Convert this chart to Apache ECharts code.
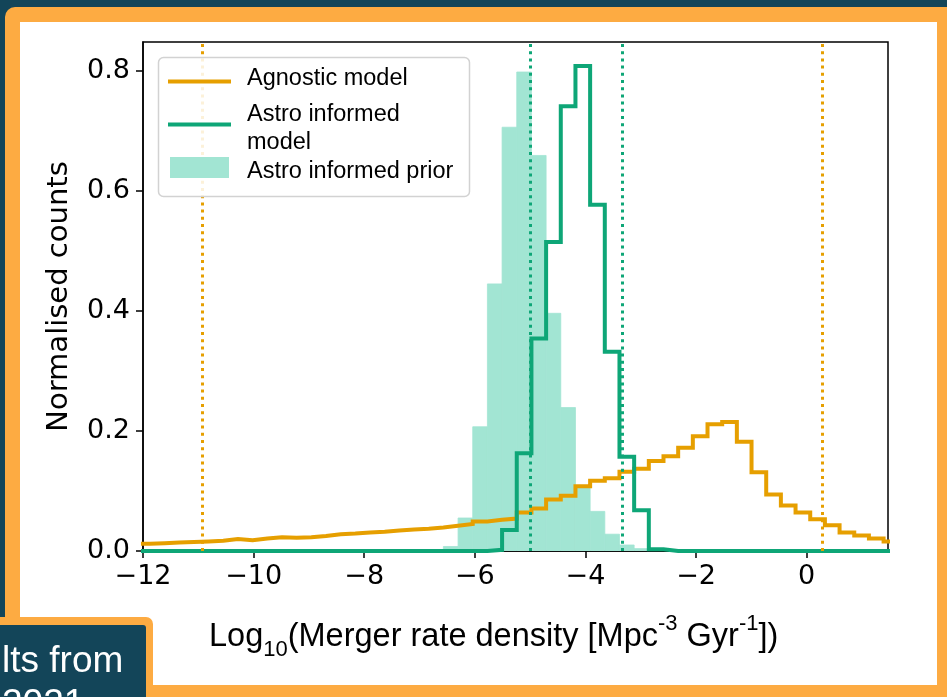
<!DOCTYPE html>
<html><head><meta charset="utf-8">
<script src="https://cdn.jsdelivr.net/npm/echarts@6/dist/echarts.min.js"></script>
<style>html,body{margin:0;padding:0;background:#134559;}#c{width:947px;height:697px;}</style>
</head><body><div id="c"></div>
<script>
// ---- data ----
const binStart = -12.14;   // left edge of first histogram bin (log10 units)
const binWidth = 0.2653;   // histogram bin width
const agnosticCounts = [0.012,0.013,0.014,0.015,0.016,0.017,0.020,0.018,0.021,0.023,
  0.022,0.023,0.025,0.028,0.029,0.031,0.032,0.034,0.036,0.037,
  0.039,0.042,0.045,0.049,0.052,0.054,0.064,0.071,0.086,0.092,
  0.108,0.117,0.121,0.132,0.137,0.150,0.158,0.172,0.191,0.211,
  0.215,0.182,0.131,0.094,0.076,0.064,0.053,0.043,0.031,0.026,
  0.021,0.016];
const astroModelCounts = [0,0,0,0,0,0,0,0,0,0,
  0,0,0,0,0,0,0,0,0,0,
  0,0,0,0,0.002,0.035,0.163,0.354,0.515,0.741,
  0.808,0.577,0.332,0.157,0.068,0.003,0,0,0,0,
  0,0,0,0,0,0,0,0,0,0,
  0,0];
const astroPriorCounts = [0,0,0,0,0,0,0,0,0,0,
  0,0,0,0,0,0,0,0,0,0,
  0,0.0075,0.055,0.207,0.445,0.706,0.798,0.659,0.396,0.239,
  0.108,0.066,0.028,0.010,0.004,0,0,0,0,0,
  0,0,0,0,0,0,0,0,0,0,
  0,0];
const agnosticBounds = [-10.93, 0.29];
const astroBounds = [-5.0, -3.34];
const xTicks = [-12,-10,-8,-6,-4,-2,0];
const yTicks = [0,0.2,0.4,0.6,0.8];
const xRange = [-12, 1.47];
const yRange = [0, 0.848];

// ---- styles ----
const ORANGE = '#E69F00';
const GREEN = '#0ea677';
const PRIOR = '#a2e5d3';
const TICKFONT = 'DejaVu Sans';
const SLIDEFONT = 'Liberation Sans, Arial, sans-serif';

const nBins = agnosticCounts.length;
const leftEdges = agnosticCounts.map((_, i) => binStart + i * binWidth);
const rightEnd = binStart + nBins * binWidth;

function stepPoints(vals) {
  const pts = [[leftEdges[0], 0]];
  vals.forEach((v, i) => pts.push([leftEdges[i], v]));
  pts.push([rightEnd, vals[vals.length - 1]]);
  pts.push([rightEnd, 0]);
  return pts;
}
const priorRects = astroPriorCounts
  .map((v, i) => [leftEdges[i], leftEdges[i] + binWidth, v])
  .filter(d => d[2] > 0);

const chart = echarts.init(document.getElementById('c'), null, {renderer: 'canvas'});
const dotted = (c) => ({color: c, width: 3, type: [3, 4.2]});

chart.setOption({
  backgroundColor: '#134559',
  animation: false,
  grid: {left: 143, right: 59, top: 42, bottom: 146, show: true,
    borderColor: '#000', borderWidth: 1.5, backgroundColor: 'transparent', z: 1},
  xAxis: {
    type: 'value', min: xRange[0], max: xRange[1], interval: 2,
    axisLine: {show: true, onZero: false, lineStyle: {color: '#000', width: 1.5}},
    axisTick: {show: true, length: 7, customValues: xTicks, lineStyle: {color: '#000', width: 1.5}},
    axisLabel: {customValues: xTicks, margin: 12, color: '#000', fontSize: 27, fontFamily: TICKFONT,
      formatter: v => (v < 0 ? '\u2212' : '') + Math.abs(v)},
    splitLine: {show: false}
  },
  yAxis: {
    type: 'value', min: yRange[0], max: yRange[1], interval: 0.2,
    name: 'Normalised counts', nameLocation: 'middle', nameGap: 69,
    nameTextStyle: {color: '#000', fontSize: 29, fontFamily: TICKFONT},
    axisLine: {show: true, onZero: false, lineStyle: {color: '#000', width: 1.5}},
    axisTick: {show: true, length: 7, customValues: yTicks, lineStyle: {color: '#000', width: 1.5}},
    axisLabel: {customValues: yTicks, margin: 13, color: '#000', fontSize: 27, fontFamily: TICKFONT,
      formatter: v => v.toFixed(1)},
    splitLine: {show: false}
  },
  series: [
    {
      name: 'Astro informed prior', type: 'custom', z: 2, clip: true,
      encode: {x: [0, 1], y: 2},
      data: priorRects,
      renderItem: (params, api) => {
        const p0 = api.coord([api.value(0), api.value(2)]);
        const p1 = api.coord([api.value(1), 0]);
        return {type: 'rect', shape: {x: p0[0], y: p0[1], width: p1[0] - p0[0], height: p1[1] - p0[1]},
          style: {fill: PRIOR, stroke: PRIOR, lineWidth: 0.8}};
      }
    },
    {
      name: 'Agnostic model', type: 'line', step: 'end', z: 3, clip: true,
      showSymbol: false, symbol: 'none',
      lineStyle: {color: ORANGE, width: 4, join: 'miter'},
      data: stepPoints(agnosticCounts),
      markLine: {silent: true, symbol: 'none', label: {show: false},
        lineStyle: dotted(ORANGE), data: agnosticBounds.map(v => ({xAxis: v}))}
    },
    {
      name: 'Astro informed model', type: 'line', step: 'end', z: 4, clip: true,
      showSymbol: false, symbol: 'none',
      lineStyle: {color: GREEN, width: 4, join: 'miter'},
      data: stepPoints(astroModelCounts),
      markLine: {silent: true, symbol: 'none', label: {show: false},
        lineStyle: dotted(GREEN), data: astroBounds.map(v => ({xAxis: v}))}
    }
  ],
  graphic: {elements: [
    // slide frame
    {type: 'rect', z: -100, shape: {x: 5, y: 7, width: 980, height: 740, r: 10}, style: {fill: '#fdab42'}},
    {type: 'rect', z: -99, shape: {x: 20, y: 22, width: 917, height: 663}, style: {fill: '#ffffff'}},
    // bottom-left caption box
    {type: 'rect', z: 200, shape: {x: -20, y: 617, width: 173, height: 120, r: [0, 7, 0, 0]}, style: {fill: '#fdab42'}},
    {type: 'rect', z: 201, shape: {x: -20, y: 625, width: 166, height: 120, r: [0, 3, 0, 0]}, style: {fill: '#134559'}},
    {type: 'text', z: 202, style: {text: 'lts from', x: 2, y: 662, verticalAlign: 'middle',
      fill: '#ffffff', font: '37px ' + SLIDEFONT}},
    {type: 'text', z: 202, style: {text: '2021', x: 2, y: 705, verticalAlign: 'middle',
      fill: '#ffffff', font: '37px ' + SLIDEFONT}},
    // x-axis title
    {type: 'text', z: 150, style: {
      x: 209, y: 637, verticalAlign: 'middle',
      text: '{n|Log}{sub|10}{n|(Merger rate density [Mpc}{sup|-3}{n| Gyr}{sup|-1}{n|])}',
      rich: {
        n: {fontSize: 32.5, fontFamily: SLIDEFONT, lineHeight: 48, verticalAlign: 'middle', fill: '#000'},
        sub: {fontSize: 22, fontFamily: SLIDEFONT, lineHeight: 22, verticalAlign: 'bottom', fill: '#000'},
        sup: {fontSize: 22, fontFamily: SLIDEFONT, lineHeight: 22, verticalAlign: 'top', fill: '#000'}
      }}},
    // legend
    {type: 'rect', z: 150, shape: {x: 158.5, y: 57.5, width: 311, height: 139, r: 5},
      style: {fill: 'rgba(255,255,255,0.85)', stroke: '#d2d2d2', lineWidth: 1.5}},
    {type: 'line', z: 151, shape: {x1: 168, y1: 81.5, x2: 231, y2: 81.5}, style: {stroke: ORANGE, lineWidth: 4}},
    {type: 'text', z: 151, style: {text: 'Agnostic model', x: 247, y: 79, verticalAlign: 'middle',
      fill: '#000', font: '23.5px ' + SLIDEFONT}},
    {type: 'line', z: 151, shape: {x1: 168, y1: 124.5, x2: 231, y2: 124.5}, style: {stroke: GREEN, lineWidth: 4}},
    {type: 'text', z: 151, style: {text: 'Astro informed', x: 247, y: 115, verticalAlign: 'middle',
      fill: '#000', font: '23.5px ' + SLIDEFONT}},
    {type: 'text', z: 151, style: {text: 'model', x: 247, y: 143, verticalAlign: 'middle',
      fill: '#000', font: '23.5px ' + SLIDEFONT}},
    {type: 'rect', z: 151, shape: {x: 170, y: 157, width: 59, height: 21}, style: {fill: PRIOR}},
    {type: 'text', z: 151, style: {text: 'Astro informed prior', x: 247, y: 172, verticalAlign: 'middle',
      fill: '#000', font: '23.5px ' + SLIDEFONT}}
  ]}
});
</script>
</body></html>
